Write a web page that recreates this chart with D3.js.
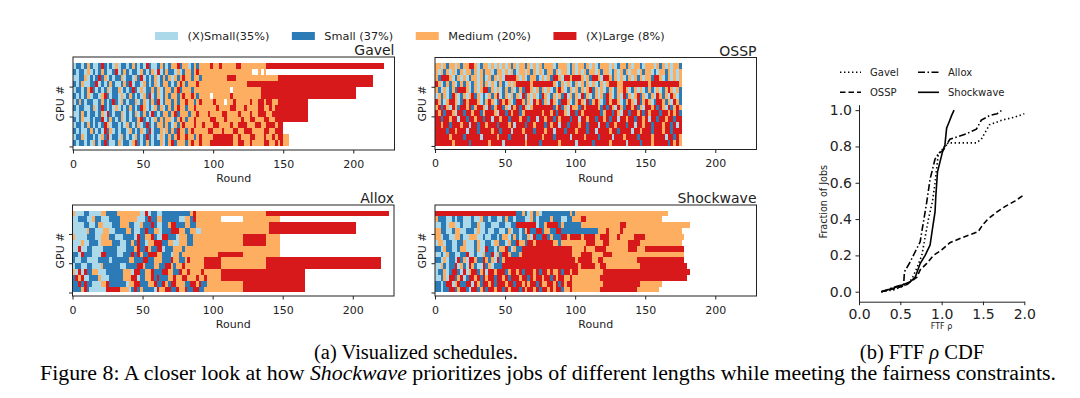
<!DOCTYPE html>
<html>
<head>
<meta charset="utf-8">
<script src="https://cdn.jsdelivr.net/npm/d3@7"></script>
<style>
  body { margin: 0; background: #fff; }
  svg { display: block; }
  text { font-family: "DejaVu Sans", sans-serif; fill: #222; }
  .cap { font-family: "Liberation Serif", "Times New Roman", serif; fill: #000; }
</style>
</head>
<body>
<svg id="chart"></svg>
<script>
// job size classes
var sizeKeys = ["a", "b", "m", "r"];
var sizeNames = ["(X)Small(35%)", "Small (37%)", "Medium (20%)", "(X)Large (8%)"];
var sizeColors = ["#abd9e9", "#2c7bb6", "#fdae61", "#d7191c"];

var roundTicks = [0, 50, 100, 150, 200];
var gpuTicks = [0, 10, 20];

// schedules: one string per band of 2 GPUs, top band first.
// each letter is 2 rounds, a number after it repeats it. "." = idle
var gavelRows = [
  "abbabmbaab rbabamabba bmbabarbaa bmbabmmrbm mabmbm m3 r1 m2 r1 m5 r2 m9 r42",
  "babbamabab mbaabrabmb abbambabma rabmbbamab mmbmrm m18 .2 m1 .1 m1",
  "aabbmababr bmababbmab bambrababm abmbmambmr mmbmmb m9 r3 m15 r34",
  "babmaabbra babmbaabmb rabbambabm abmmbabmrm bmmmrm m16 r45",
  "abbabmrbab abmabbmaba brbamabbmb mabmmbmrbm mmbmmm m10 .1 m10 r34",
  "bababmabba mrbabbamab mbabambrab mabmbmmbmr mmrmbm m3 .1 m6 r1 m10 r34",
  "abmbabbaab mbabrbamba bbmabmabmb rabmmbmbmm rmmbmr m4 r1 m3 .1 m2 r1 m5 r1 m2 r2 m1 r2 m2 r1 r10",
  "babbaabmab rbabamabab mbabrmabam bmabmbmrmm bmmrmm m5 r1 m4 r2 m3 r1 m4 r2 m2 r1 m1 r2 r10",
  "aabmbabbab marbabbmab abmabmbarb abmmbmrbmm mbmmrm m2 r1 m4 r2 m4 r1 m3 r1 m2 r3 m2 r3 r10",
  "babmaababb rabmbabmab abbmrbabam bmbmmabmrm bmmrmm m3 r2 m3 r1 m5 r1 m2 r2 m3 r2 m2 r2 r10",
  "abbabmbaba brmabbabam babmabrbab mmbmbambmr mmmrmm r1 m3 r2 m4 r1 m2 r3 m3 r2 m2 r3 m1 r2",
  "babaabmbab arbmababba mbabmabrab bmambmbrmm bmrmmm m2 r2 m3 r1 m3 r2 m2 r3 m4 r2 m2 r3",
  "abbmabbaba mbrabbamba bambabrbab amabmbmrmm rmmbmr m4 r1 r6 m2 r1 m3 r2 m3 r1 m2 r1 m1 r2 m2",
  "babbabamba brbaabmabb amrbabmbab bmabmrbmmm bmrmmr m3 r8 m2 r2 m2 r1 m4 r2 m2 r1 m1 r1 m2"
];

var osspRows = [
  "mmambmmamb mmrrmabmma mamamambma mmbmamambm mmabmmmabm ammbmamabm mmamabmmbm ammbammmam bmamammb",
  "mambmamabm ammbmambmm abmmamamba mmambmamab mmbmammabm amambmmamb mmabmambma mmambmmaba mmbmamam",
  "mbrrrmabma mabmmambam bmamarrrrm amabmmbama mbrrmarrmr rrmambrrma rrmbmamabm ambmammbrr mabmamam",
  "rmabmbmabm bmabmambma mabmbamamr rrrrmrrrrr rrmabmamab mambmamabm amrrrmmrrr rrrrrrmrrr rrrrrrrm",
  "mbamabmbrr rmabmamrrb mamabmbmab mbrrmambma mabmrmabma mbmamrbmam abmabmmrma bmamabmbam abmrmamb",
  "ambmabrmab mamrbmabam bmrabmambm arbmamabrm abmambramb marbmabmam brmabmarbm amrbmabmar mbmarmab",
  "rmbamrrmab rmrrrmabmr mabrmrmabr rmbmarmrbm armabrrmab mrmarbmrma brmrrmabmr marbmrmabr rmbmarmb",
  "mrbrmarmbr rmrbmrrmar bmrrbmarmr brmamrrrrr rrbmrbmarm mbrmrrrrmb rbrmarmbrr mrbmarrmrb rmarbmrm",
  "rmrbrrmarr brrmrrbmrr rmarrbrmrr bmrrrrrrmr rmrbrrmarr brmrrrrrrb mrrbrmarrb rrmrbrmrrr brrmrmrb",
  "rrbrrmrrar rbrrmrrbrr arrmrrbrrr mrrbrrarrm rrbrmrrrbr rarrmrrbrr mrbrrarrmr rbrrmrarrb rrmrrbrr",
  "rrmrrbrrrm rrarrbrrmr rrbrrrmrar rrbrrmrrrb rmrrarrbrr rmrrbrrrar rbrrmrrrbr rarrmrrbrr rmrrbrar",
  "rrrrbrrmrr rarrrbrrrr mrrbrrrarr rmrrrbrrrm rrarrrbrrr mrrrbrrarr rrmrrbrrrr arrmrrrbrr rmrrbrrr",
  "rrrrrmrrrr brrrrrarrr rrmrrrbrrr rrarrrrrmr rrbrrrrrar rrrmrrrrbr rrrarrrmrr rrbrrrrmrr rrarrbrm",
  "rrrrrrmrrr rrbrrrrrrm rrrrarrrrr rrmrrrrbrr rrrrmrrrrr arrrrrbrrr rrmrrrrrar rrrbrrrmrr rrrbrmrm"
];

var alloxRows = [
  "m1 a3 b2 a4 m2 b4 m8 a2 r1 a1 b2 a2 b10 m1 r1 m25 r44",
  "a2 b3 a2 m1 b2 a3 b4 m6 a3 b1 r1 b2 m2 b6 a2 m2 b1 r1 m9 .8 m13",
  "a4 b2 a2 b1 m2 a3 b3 m3 b2 a2 m1 b3 r1 b1 a2 b2 m1 r2 b3 m2 b2 m26 r31",
  "a5 m1 b2 a3 m2 a2 b4 m2 b1 a2 b2 r1 b2 m2 a1 b3 r3 m2 b2 m2 a2 m24 r31",
  "m1 a4 b3 a2 m3 b2 a3 b4 a1 r1 b2 m2 r1 b1 a2 r2 b3 a1 m3 b2 m18 r8 m5",
  "a3 m1 a2 b3 a1 m4 b3 a2 b2 m1 b1 r1 b2 a1 m2 r3 b2 m2 a2 m3 b2 m18 r8 m5",
  "a2 r1 a2 b2 a4 b5 a3 b3 m1 r1 b2 r1 m1 b2 r2 a1 b3 m3 b1 m3 m31",
  "b2 a1 r1 b3 a3 r2 b4 a2 b3 r1 b1 r1 m1 b2 r3 m2 b3 a1 m2 b1 m2 m11 r9 m13",
  "b1 a2 b2 a4 b4 a1 b6 m2 b3 r2 b2 m3 b3 r1 m2 b2 m1 r1 m5 r6 m16 r41",
  "a1 b2 a2 b2 a3 m1 b6 a2 b4 r2 m1 b3 m2 b2 r2 m1 b1 m2 r1 m2 m5 r6 m16 r41",
  "m1 a1 r1 a1 r1 b2 m2 a3 b6 m3 a1 r2 b2 m2 r1 b3 r2 m2 b2 r1 m2 r1 m2 m2 r1 m3 m3 r30",
  "b1 r1 m1 r1 a2 b3 m1 a3 b5 m3 r2 a1 b2 m2 r1 b1 r1 b3 m2 r1 m2 r2 m1 m2 r1 m2 r1 m3 m2 r30",
  "b2 r1 b1 r1 b2 a3 m2 r1 b6 a1 m2 r2 b3 m2 r1 b2 r1 m1 b1 r2 m3 b2 r2 m1 r1 b2 m13 r22",
  "b3 m1 r1 b1 a3 a3 r5 m3 a1 b1 r1 b1 m1 b4 a1 r1 m2 r2 b2 r1 m2 r1 b2 r2 b2 m14 r22"
];

var shockwaveRows = [
  "r29 b2 m1 b1 a1 m1 b1 m1 a1 b10 m1 b1 m33",
  "m1 b3 a2 b1 a1 b2 a3 b1 a2 m1 b2 a1 b2 a2 b1 m1 b2 a1 b3 a2 m1 b1 a1 b4 m1 b3 a2 b2 m3 r2 m1 m26",
  "a2 b2 a1 m2 a2 b1 a3 b2 m1 a2 b2 a3 b2 a2 b2 r7 a1 b2 m1 r4 b1 m1 b2 b4 m2 m12 r2 m23",
  "m2 b2 a2 b1 m2 a2 b3 a1 m1 a2 b1 a2 b2 a2 b1 m1 a1 b2 a1 b1 m1 r1 b2 r2 b1 m2 b2 r2 b13 m3 r1 m4 r1 m21",
  "m2 a1 b2 a2 m2 b1 a2 m3 a2 b1 a2 b2 a1 b1 m2 a1 b1 m1 b1 a1 b2 m1 a1 r1 b2 r2 b1 m1 b3 r2 m1 r4 m1 r4 m2 r3 m3 r1 m5 r4 m14",
  "a1 m2 a1 b2 a2 b2 m1 a3 b1 m1 a2 b2 a1 m2 b2 a1 m1 b2 r1 m2 b1 r2 m1 r2 r4 m2 b1 m5 m4 r3 m3 r2 m7 r4 m15",
  "b2 a1 m1 b2 a2 b1 m2 a3 b1 m1 a2 r1 b2 a1 b1 m2 r1 b1 a1 m1 b2 r18 m4 r1 m3 r4 m8 r3 m3 r14",
  "a2 b1 a1 m1 b2 a2 b2 r1 a2 b1 a2 m1 b2 r1 a1 m1 b1 r2 m1 b1 b2 m1 r18 m3 r4 m4 r3 m26",
  "b2 a1 m1 a1 b2 a1 r1 b1 m1 a1 r2 m1 b2 r1 m1 b1 m1 a1 r1 b1 m1 r25 m1 r5 m2 r2 m12 r17",
  "a2 m1 b1 a1 b2 r1 a1 m1 b1 a1 r1 m1 b1 a2 r1 b1 m1 a1 b1 b2 r27 m1 r5 m2 r2 m12 r17",
  "a1 b2 m1 a1 b1 r2 b1 a1 r1 a1 m1 r2 b1 m1 r1 a1 r2 m1 r3 b1 m1 r2 m1 r1 b1 r3 m1 r1 b1 r2 m1 r1 m2 r1 b1 r2 m1 r2 m9 r31",
  "a2 b1 m1 a1 r2 b1 m1 r1 a1 b1 r2 m1 r1 b1 r1 m1 r2 b1 r2 m1 r1 b1 r3 m1 r2 b1 r1 m1 r2 m1 r2 b1 r1 m1 r2 m2 r1 m10 r31",
  "b2 a1 b1 r2 a1 m1 r1 b2 r2 a1 r1 m1 b1 r2 m1 r1 b1 r3 m1 r2 b1 r2 m1 r1 m1 r2 b1 r1 m2 r2 m1 r1 b1 r1 m1 r2 m2 m9 r13 m8",
  "b2 a1 b2 r2 b1 m1 r2 b1 a1 r2 b1 m1 r1 b1 r2 m1 r2 b1 r1 m1 r3 b1 r1 m1 r2 m1 r1 b1 r2 m1 r1 m1 r2 b1 m2 r1 m10 r13 m8"
];

// FTF rho CDF, [rho, fraction]
var gavelCdf = [[0.27,0],[0.42,0.01],[0.58,0.04],[0.64,0.07],[0.70,0.13],[0.76,0.2],[0.84,0.4],[0.89,0.5],[0.92,0.6],[0.96,0.76],[1.08,0.82],[1.42,0.82],[1.48,0.84],[1.58,0.92],[1.73,0.945],[1.87,0.96],[2.0,0.98]];
var osspCdf = [[0.27,0],[0.46,0.02],[0.58,0.04],[0.70,0.08],[0.74,0.12],[0.82,0.156],[0.90,0.2],[1.0,0.23],[1.1,0.27],[1.26,0.30],[1.44,0.33],[1.5,0.37],[1.56,0.40],[1.67,0.44],[1.77,0.47],[1.89,0.5],[2.0,0.535]];
var alloxCdf = [[0.27,0],[0.46,0.03],[0.54,0.04],[0.55,0.11],[0.62,0.165],[0.68,0.22],[0.74,0.275],[0.78,0.385],[0.82,0.495],[0.86,0.62],[0.92,0.73],[0.96,0.76],[1.02,0.78],[1.1,0.84],[1.3,0.87],[1.42,0.895],[1.48,0.945],[1.58,0.97],[1.67,0.98],[1.73,1.0]];
var shockwaveCdf = [[0.27,0],[0.42,0.02],[0.54,0.04],[0.62,0.055],[0.68,0.08],[0.74,0.155],[0.80,0.2],[0.86,0.257],[0.89,0.35],[0.92,0.44],[0.93,0.53],[0.95,0.66],[0.98,0.715],[1.01,0.77],[1.04,0.81],[1.06,0.9],[1.09,0.935],[1.12,0.97],[1.15,1.0]];
var rhoTicks = [0, 0.5, 1.0, 1.5, 2.0];
var fracTicks = [0, 0.2, 0.4, 0.6, 0.8, 1.0];

var svg = d3.select("#chart").attr("width", 1080).attr("height", 398);

var colorOf = d3.scaleOrdinal().domain(sizeKeys).range(sizeColors);

function parseRow(s) {
  var segs = [], x = 0;
  s.replace(/\s+/g, "").replace(/([abmr.])(\d*)/g, function(_, c, n) {
    var w = (n ? +n : 1) * 2;
    if (c !== ".") segs.push({x0: x, x1: x + w, c: c});
    x += w;
  });
  return segs;
}

// ---- legend on top
var lx = 155;
sizeKeys.forEach(function(k, i) {
  svg.append("rect").attr("x", lx).attr("y", 32).attr("width", 23).attr("height", 8)
    .attr("fill", colorOf(k));
  var t = svg.append("text").attr("x", lx + 32.5).attr("y", 39.8)
    .style("font-size", "11.3px").text(sizeNames[i]);
  lx += 32.5 + t.node().getComputedTextLength() + 22.5;
});

// ---- schedule panels
var panels = [
  {name: "Gavel", rows: gavelRows, x: 73, y: 57, h: 93},
  {name: "OSSP", rows: osspRows, x: 435, y: 57.5, h: 92},
  {name: "Allox", rows: alloxRows, x: 72.5, y: 205, h: 91},
  {name: "Shockwave", rows: shockwaveRows, x: 435, y: 205, h: 91}
];

panels.forEach(function(p) {
  var w = 321.5;
  var x = d3.scaleLinear().domain([0, 229.4]).range([p.x, p.x + w]);
  var y = d3.scaleLinear().domain([-1.2, 29.9]).range([p.y + p.h, p.y]);
  var g = svg.append("g");
  var n = p.rows.length;

  p.rows.forEach(function(r, k) {
    var band = n - 1 - k;
    g.selectAll(null).data(parseRow(r)).enter().append("rect")
      .attr("x", function(d) { return x(d.x0); })
      .attr("width", function(d) { return x(d.x1) - x(d.x0); })
      .attr("y", y(band * 2 + 2))
      .attr("height", y(band * 2) - y(band * 2 + 2))
      .attr("fill", function(d) { return colorOf(d.c); })
      .attr("shape-rendering", "crispEdges");
  });

  svg.append("rect").attr("x", p.x).attr("y", p.y).attr("width", w).attr("height", p.h)
    .attr("fill", "none").attr("stroke", "#222").attr("stroke-width", 1);

  var xa = svg.append("g").attr("transform", "translate(0," + (p.y + p.h) + ")")
    .call(d3.axisBottom(x).tickValues(roundTicks).tickSize(3.5).tickPadding(6.5));
  xa.select(".domain").remove();
  xa.selectAll("text").style("font-size", "11px").attr("fill", "#222");
  xa.selectAll("line").attr("stroke", "#222");

  var ya = svg.append("g").attr("transform", "translate(" + p.x + ",0)")
    .call(d3.axisLeft(y).tickValues(gpuTicks).tickSize(3.5).tickFormat(""));
  ya.select(".domain").remove();
  ya.selectAll("line").attr("stroke", "#222");

  svg.append("text").attr("x", p.x + w).attr("y", p.y - 2).attr("text-anchor", "end")
    .style("font-size", "14px").text(p.name);
  svg.append("text").attr("x", p.x + w / 2).attr("y", p.y + p.h + 32)
    .attr("text-anchor", "middle").style("font-size", "11px").text("Round");
  svg.append("text").attr("transform", "translate(" + (p.x - 9) + "," + (p.y + p.h / 2) + ") rotate(-90)")
    .attr("text-anchor", "middle").style("font-size", "11px").text("GPU #");
});

// ---- CDF panel
var cx = d3.scaleLinear().domain([0, 2]).range([859, 1024.3]);
var cy = d3.scaleLinear().domain([-0.055, 1.03]).range([301.7, 104.7]);
var cdf = svg.append("g");
cdf.append("clipPath").attr("id", "cdfclip").append("rect")
  .attr("x", 859).attr("y", 95).attr("width", 166).attr("height", 210);

var lineStyles = [
  {name: "Gavel", data: gavelCdf, dash: "1.4,2.6"},
  {name: "OSSP", data: osspCdf, dash: "5.5,3"},
  {name: "Allox", data: alloxCdf, dash: "7,2.5,1.5,2.5"},
  {name: "Shockwave", data: shockwaveCdf, dash: null}
];
var line = d3.line().x(function(d) { return cx(d[0]); }).y(function(d) { return cy(d[1]); });
lineStyles.forEach(function(s) {
  cdf.append("path").datum(s.data).attr("d", line).attr("fill", "none")
    .attr("stroke", "#000").attr("stroke-width", 1.6)
    .attr("stroke-dasharray", s.dash).attr("clip-path", "url(#cdfclip)");
});

var cxa = svg.append("g").attr("transform", "translate(0,301.7)")
  .call(d3.axisBottom(cx).tickValues(rhoTicks).tickFormat(d3.format(".1f")).tickSize(3.5).tickPadding(3.5).tickSizeOuter(0));
cxa.selectAll("text").style("font-size", "14px").attr("fill", "#222");
cxa.selectAll("line, path").attr("stroke", "#222");
var cya = svg.append("g").attr("transform", "translate(859,0)")
  .call(d3.axisLeft(cy).tickValues(fracTicks).tickFormat(d3.format(".1f")).tickSize(3.5).tickPadding(3.5).tickSizeOuter(0));
cya.selectAll("text").style("font-size", "14px").attr("fill", "#222");
cya.selectAll("line, path").attr("stroke", "#222");

svg.append("text").attr("x", 941.5).attr("y", 328.5).attr("text-anchor", "middle")
  .style("font-size", "8px").text("FTF ρ");
svg.append("text").attr("transform", "translate(827,201.7) rotate(-90)")
  .attr("text-anchor", "middle").style("font-size", "9.6px").text("Fraction of Jobs");

// CDF legend, two columns
var legPos = [[840, 72.3], [840, 92.3], [918, 72.3], [918, 92.3]];
lineStyles.forEach(function(s, i) {
  var p = legPos[i];
  svg.append("line").attr("x1", p[0]).attr("x2", p[0] + 21).attr("y1", p[1]).attr("y2", p[1])
    .attr("stroke", "#000").attr("stroke-width", 1.6).attr("stroke-dasharray", s.dash);
  svg.append("text").attr("x", p[0] + 30).attr("y", p[1] + 3.6).style("font-size", "10px").text(s.name);
});

// ---- captions
svg.append("text").attr("class", "cap").attr("x", 416).attr("y", 358.5).attr("text-anchor", "middle")
  .style("font-size", "20.5px").text("(a) Visualized schedules.");
var cb = svg.append("text").attr("class", "cap").attr("x", 922).attr("y", 358.5).attr("text-anchor", "middle")
  .style("font-size", "20.5px");
cb.append("tspan").text("(b) FTF ");
cb.append("tspan").style("font-style", "italic").text("ρ");
cb.append("tspan").text(" CDF");
var fc = svg.append("text").attr("class", "cap").attr("x", 548).attr("y", 380).attr("text-anchor", "middle")
  .attr("textLength", 1016).attr("lengthAdjust", "spacingAndGlyphs")
  .style("font-size", "20.5px");
fc.append("tspan").text("Figure 8: A closer look at how ");
fc.append("tspan").style("font-style", "italic").text("Shockwave");
fc.append("tspan").text(" prioritizes jobs of different lengths while meeting the fairness constraints.");
</script>
</body>
</html>
